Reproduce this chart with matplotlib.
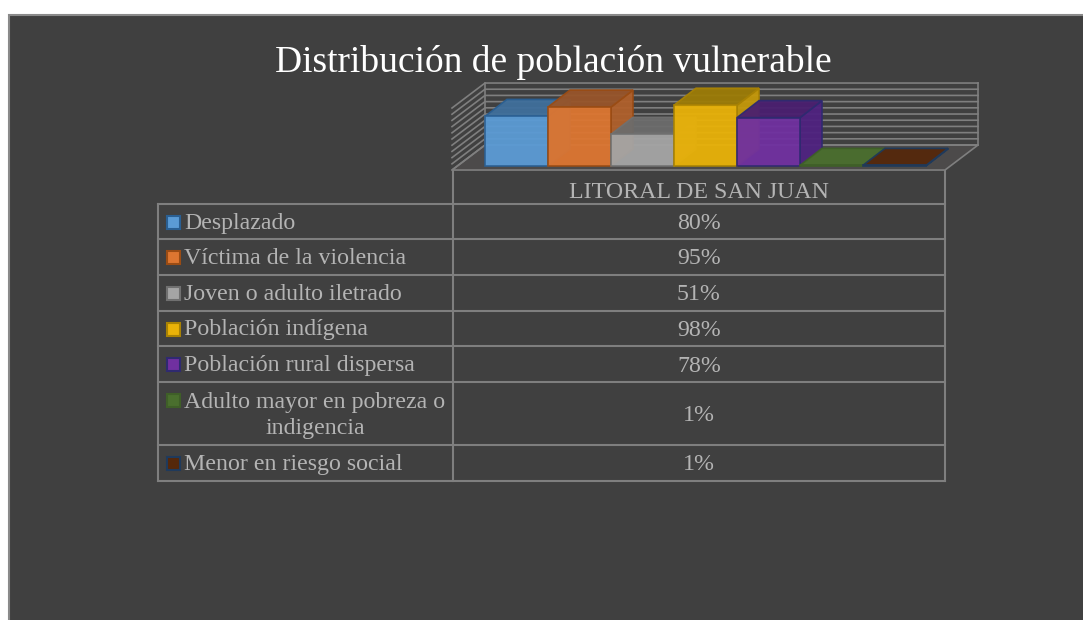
import matplotlib
matplotlib.use('Agg')
import matplotlib.pyplot as plt
from matplotlib.patches import Polygon, Rectangle

plt.rcParams['font.family'] = ['Liberation Serif', 'DejaVu Serif']

# data
categories = ['Desplazado', 'Víctima de la violencia', 'Joven o adulto iletrado',
              'Población indígena', 'Población rural dispersa',
              'Adulto mayor en pobreza o\nindigencia', 'Menor en riesgo social']
values = [80, 95, 51, 98, 78, 1, 1]
value_labels = ['80%', '95%', '51%', '98%', '78%', '1%', '1%']
column_label = 'LITORAL DE SAN JUAN'
grid_ticks = [0, 10, 20, 30, 40, 50, 60, 70, 80, 90, 100]
title = 'Distribución de población vulnerable'

# colours: front, side, top, edge
front_colors = ['#5B9BD5', '#DD7631', '#A5A5A5', '#E9B208', '#7030A0', '#4A6F2E', '#55280B']
side_colors = ['#3F6F9C', '#B0602B', '#7E7C7A', '#C4980A', '#4F2280', '#3F5F28', '#4A2309']
top_colors = ['#3F6F9C', '#98552A', '#6C6C6C', '#9D7C06', '#4A1F70', '#4A6F2E', '#55280B']
edge_colors = ['#2A5F92', '#9A4C14', '#707070', '#A88204', '#2F2A70', '#3F5F28', '#1F3A5C']

W, H = 1083, 620
BG = '#404040'
LINE = '#7F7F7F'
TXT = '#B4B4B4'
FS = 17.2

fig = plt.figure(figsize=(W / 100, H / 100), dpi=100, facecolor='white')

# pixel axes for panel and table
ax = fig.add_axes([0, 0, 1, 1])
ax.set_xlim(0, W)
ax.set_ylim(H, 0)
ax.axis('off')
ax.add_patch(Rectangle((8.5, 14.5), W, H, fc=BG, ec='#8A8A8A', lw=1.5))

ax.text(553, 62, title, color='white', fontsize=27, ha='center', va='center')

# table
col_x = [158, 453, 945]
row_y = [204, 239, 275, 311, 346, 382, 445, 481]
table_top = 170
for y in row_y:
    ax.plot([col_x[0], col_x[2]], [y, y], color=LINE, lw=1.5, zorder=2)
ax.plot([col_x[0], col_x[0]], [row_y[0], row_y[-1]], color=LINE, lw=1.5)
ax.plot([col_x[1], col_x[1]], [table_top, row_y[-1]], color=LINE, lw=1.5)
ax.plot([col_x[2], col_x[2]], [table_top, row_y[-1]], color=LINE, lw=1.5)
ax.text(699, 193, column_label, color=TXT, fontsize=FS, ha='center', va='center')

for i, cat in enumerate(categories):
    yc = (row_y[i] + row_y[i + 1]) / 2
    if '\n' in cat:
        key_y = yc - 14
        ax.text(315, yc + 2, cat, color=TXT, fontsize=FS, ha='center', va='center', linespacing=1.3)
    else:
        key_y = yc
        ax.text(184, yc + 1.5, cat, color=TXT, fontsize=FS, ha='left', va='center')
    ax.add_patch(Rectangle((167, key_y - 6), 13, 13, fc=front_colors[i], ec=edge_colors[i], lw=1.5))
    ax.text(699, yc + 2, value_labels[i], color=TXT, fontsize=FS, ha='center', va='center')

# bar chart axes: x in categories, y in percent, 63 px per category and 0.62 px per percent
px_cat = 63.0
px_pct = 0.62
x0_px, y0_px = 485.0, 166.0
ax2 = fig.add_axes([0, 0, 1, 1], facecolor='none')
ax2.set_xlim((0 - x0_px) / px_cat, (W - x0_px) / px_cat)
ax2.set_ylim((y0_px - H) / px_pct, y0_px / px_pct)
ax2.axis('off')

# floor and walls
floor_y = -6.5
depth_x, depth_y = 33 / px_cat, 25 / px_pct
wall_y = floor_y + depth_y
floor_right = (945 - x0_px) / px_cat
ax2.add_patch(Polygon([(-depth_x, floor_y), (floor_right, floor_y),
                       (floor_right + depth_x, wall_y), (0, wall_y)],
                      fc='#4C4A4A', ec=LINE, lw=1.2, zorder=1))
for t in grid_ticks:
    ax2.plot([-depth_x, 0, floor_right + depth_x],
             [floor_y + t, wall_y + t, wall_y + t], color=LINE, lw=1.2, zorder=1.5)
ax2.plot([0, 0], [wall_y, wall_y + 100], color=LINE, lw=1.2, zorder=1.5)
ax2.plot([floor_right + depth_x] * 2, [wall_y, wall_y + 100], color=LINE, lw=1.2, zorder=1.5)

# bars, drawn left to right so each one overlaps the previous
bar_dx, bar_dy = 22 / px_cat, 17 / px_pct
for i, v in enumerate(values):
    x1, x2 = i, i + 1
    z = 3 + i
    ax2.add_patch(Polygon([(x2, 0), (x2 + bar_dx, bar_dy), (x2 + bar_dx, v + bar_dy), (x2, v)],
                          fc=side_colors[i], ec=edge_colors[i], lw=1.2, alpha=0.95, zorder=z))
    ax2.add_patch(Polygon([(x1, v), (x2, v), (x2 + bar_dx, v + bar_dy), (x1 + bar_dx, v + bar_dy)],
                          fc=top_colors[i], ec=edge_colors[i], lw=1.2, alpha=0.95, zorder=z))
    ax2.add_patch(Polygon([(x1, 0), (x2, 0), (x2, v), (x1, v)],
                          fc=front_colors[i], ec=edge_colors[i], lw=1.2, alpha=0.95, zorder=z))

fig.savefig('out.png', dpi=100, facecolor='white')
